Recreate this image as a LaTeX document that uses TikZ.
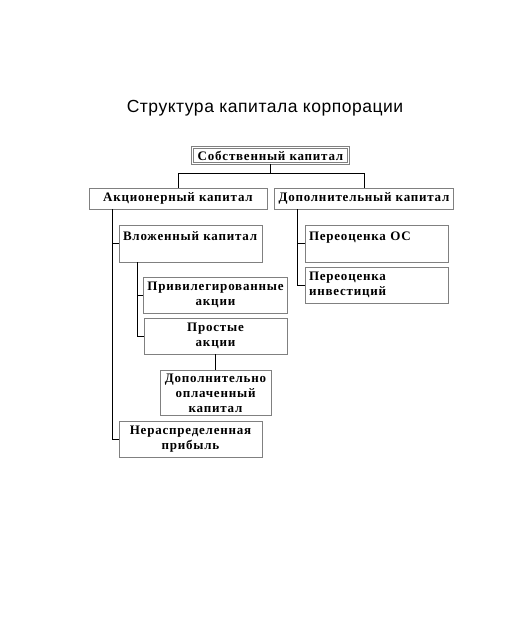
\documentclass[tikz,border=0pt]{standalone}
\usepackage{fontspec}
\setmainfont{Liberation Serif}
\newfontfamily\boxfont[LetterSpace=6]{Liberation Serif}
\newfontfamily\titlefont[LetterSpace=3]{Liberation Sans}
\usetikzlibrary{positioning}

\begin{document}
\begin{tikzpicture}[x=1pt, y=-1pt,
  box/.style={rectangle, draw=gray, fill=white, line width=0.6pt,
    font=\boxfont\bfseries\fontsize{13}{15}\selectfont, align=center,
    inner xsep=4pt, inner ysep=2pt},
  wide/.style={box, minimum width=143pt, minimum height=36pt},
  leftwide/.style={box, align=left, text width=135pt, minimum height=#1},
  narrow/.style={box, minimum width=111pt, minimum height=45pt},
  long/.style={box, minimum width=178pt, minimum height=21pt},
  link/.style={line width=0.6pt, black},
  node distance=16pt,
]
\useasboundingbox (0,0) rectangle (528,623);

% Title
\node[font=\titlefont\fontsize{17.5}{20}\selectfont] (title) at (265,108)
  {Структура капитала корпорации};

% Top
\node[box, double=white, double distance=1.4pt, minimum width=156pt,
  minimum height=16pt] (own) at (270.5,155.5) {Собственный капитал};

% Row 1
\node[long] (shares) at (178,198.5) {Акционерный капитал};
\node[long] (addcap) at (364,198.5) {Дополнительный капитал};

% Left branch
\node[leftwide=37pt] (invested) at (190.5,243.5) {Вложенный капитал\\~};
\node[wide] (pref) at (215.5,295) {Привилегированные\\акции};
\node[wide] (common) at (215.5,336) {Простые\\акции};
\node[narrow, below=16pt of common] (paidin) {Дополнительно\\оплаченный\\капитал};
\node[wide] (retained) at (190.5,439) {Нераспределенная\\прибыль};

% Right branch
\node[leftwide=37pt] (revalos) at (376.5,243.5) {Переоценка ОС\\~};
\node[leftwide=36pt] (revalinv) at (376.5,285) {Переоценка\\инвестиций};

% Connectors
\draw[link] (own.south) -- ++(0,9) coordinate (split);
\draw[link] (shares.north) |- (split) -| (addcap.north);

\coordinate (trunkA) at (112,209);
\draw[link] (trunkA) |- (retained.west);
\draw[link] (trunkA |- invested.west) -- (invested.west);

\coordinate (trunkB) at (137,262);
\draw[link] (trunkB) |- (common.west);
\draw[link] (trunkB |- pref.west) -- (pref.west);
\draw[link] (common.south) -- (paidin.north);

\coordinate (trunkC) at (297,209);
\draw[link] (trunkC) |- (revalinv.west);
\draw[link] (trunkC |- revalos.west) -- (revalos.west);

\end{tikzpicture}
\end{document}
